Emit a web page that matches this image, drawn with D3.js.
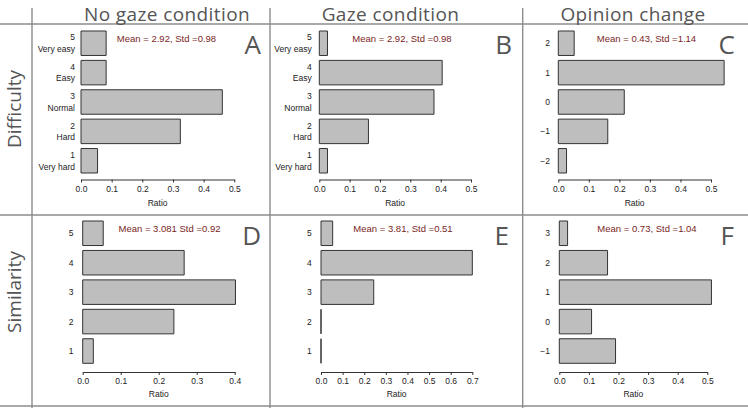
<!DOCTYPE html>
<html><head><meta charset="utf-8">
<script src="https://cdnjs.cloudflare.com/ajax/libs/d3/7.8.5/d3.min.js"></script>
<style>body{margin:0;background:#fff}svg{display:block}</style>
</head><body>
<script>
// ---- data ----
const columnTitles = ["No gaze condition", "Gaze condition", "Opinion change"];
const rowTitles = ["Difficulty", "Similarity"];
const panelLetters = ["A", "B", "C", "D", "E", "F"];
const scaleLevels = ["1", "2", "3", "4", "5"];
const difficultyNames = ["Very hard", "Hard", "Normal", "Easy", "Very easy"];
const opinionLevelsC = ["\u22122", "\u22121", "0", "1", "2"];
const opinionLevelsF = ["\u22121", "0", "1", "2", "3"];

const noGazeDifficulty = [0.054, 0.324, 0.461, 0.082, 0.082];
const gazeDifficulty = [0.027, 0.162, 0.378, 0.405, 0.027];
const opinionDifficulty = [0.027, 0.162, 0.216, 0.543, 0.052];
const noGazeSimilarity = [0.028, 0.240, 0.402, 0.267, 0.054];
const gazeSimilarity = [0, 0, 0.244, 0.700, 0.054];
const opinionSimilarity = [0.190, 0.109, 0.514, 0.163, 0.028];

const ticksHalf = [0, 0.1, 0.2, 0.3, 0.4, 0.5];
const ticksD = [0, 0.1, 0.2, 0.3, 0.4];
const ticksE = [0, 0.1, 0.2, 0.3, 0.4, 0.5, 0.6, 0.7];

const statsText = [
  "Mean = 2.92, Std =0.98", "Mean = 2.92, Std =0.98", "Mean = 0.43, Std =1.14",
  "Mean = 3.081 Std =0.92", "Mean = 3.81, Std =0.51", "Mean = 0.73, Std =1.04"
];
const axisTitle = "Ratio";

// ---- layout ----
const W = 748, H = 408;
const svg = d3.select("body").append("svg").attr("width", W).attr("height", H);
const small = "'Liberation Sans', Arial, sans-serif";
const big = "'Open Sans', 'Noto Sans', sans-serif";

const rows = [
  {barTop: 31, barBot: 173, axisY: 179.5, tickY: 192.5, titleY: 206, statY: 41.5, letterY: 54},
  {barTop: 221, barBot: 363.3, axisY: 372, tickY: 384.5, titleY: 397, statY: 231.5, letterY: 245}
];

const panels = [
  {row: 0, values: noGazeDifficulty, levels: scaleLevels, names: difficultyNames, ticks: ticksHalf, x0: 81, x1: 234.3, labelX: 75, statX: 166.5, letterX: 261},
  {row: 0, values: gazeDifficulty, levels: scaleLevels, names: difficultyNames, ticks: ticksHalf, x0: 319.3, x1: 471, labelX: 311.7, statX: 402, letterX: 512},
  {row: 0, values: opinionDifficulty, levels: opinionLevelsC, names: null, ticks: ticksHalf, x0: 558.3, x1: 711, labelX: 550, statX: 646.5, letterX: 735},
  {row: 1, values: noGazeSimilarity, levels: scaleLevels, names: null, ticks: ticksD, x0: 82.7, x1: 234.7, labelX: 73.5, statX: 169.5, letterX: 261},
  {row: 1, values: gazeSimilarity, levels: scaleLevels, names: null, ticks: ticksE, x0: 321, x1: 472.3, labelX: 311.7, statX: 403, letterX: 509},
  {row: 1, values: opinionSimilarity, levels: opinionLevelsF, names: null, ticks: ticksHalf, x0: 559.3, x1: 707.3, labelX: 550, statX: 647, letterX: 734}
];

// grid lines
const gridColor = "#8c8c8c";
const g = svg.append("g").attr("stroke", gridColor).attr("stroke-width", 1.4);
[24, 215, 406].forEach(y => g.append("line").attr("x1", 0).attr("x2", W).attr("y1", y).attr("y2", y));
[32, 270, 522.7].forEach(x => g.append("line").attr("x1", x).attr("x2", x).attr("y1", 8).attr("y2", H));

// column titles
const colCenters = [167, 390.5, 633];
columnTitles.forEach((t, i) => {
  svg.append("text").attr("x", colCenters[i]).attr("y", 20.5).attr("text-anchor", "middle")
    .attr("font-family", big).attr("font-size", 19).attr("letter-spacing", 0.4)
    .attr("fill", "#555").text(t);
});
// row titles
const rowCenters = [109, 292];
rowTitles.forEach((t, i) => {
  svg.append("text").attr("transform", `translate(21,${rowCenters[i]}) rotate(-90)`)
    .attr("text-anchor", "middle").attr("font-family", big).attr("font-size", 19)
    .attr("fill", "#555").text(t);
});

panels.forEach((p, i) => {
  const r = rows[p.row];
  const x = d3.scaleLinear().domain([0, p.ticks[p.ticks.length - 1]]).range([p.x0, p.x1]);
  const y = d3.scaleBand().domain(p.levels).range([r.barBot, r.barTop]).paddingInner(0.2 / 1.2).paddingOuter(0);
  const pg = svg.append("g");

  pg.selectAll("path.bar").data(p.values).join("path").attr("class", "bar")
    .attr("d", (v, k) => {
      const yy = y(p.levels[k]), w = x(v) - x(0);
      return `M${x(0)},${yy}h${w}v${y.bandwidth()}h${-w}Z`;
    })
    .attr("fill", "#bebebe").attr("stroke", "#333").attr("stroke-width", 1);

  // category labels
  p.levels.forEach((lv, k) => {
    const cy = y(lv) + y.bandwidth() / 2;
    if (p.names) {
      pg.append("text").attr("x", p.labelX).attr("y", cy - 5.8).attr("dy", "0.35em")
        .attr("text-anchor", "end").attr("font-family", small).attr("font-size", 8.5).attr("fill", "#222").text(lv);
      pg.append("text").attr("x", p.labelX).attr("y", cy + 5.8).attr("dy", "0.35em")
        .attr("text-anchor", "end").attr("font-family", small).attr("font-size", 8.5).attr("fill", "#222").text(p.names[k]);
    } else {
      pg.append("text").attr("x", p.labelX).attr("y", cy).attr("dy", "0.35em")
        .attr("text-anchor", "end").attr("font-family", small).attr("font-size", 8.5).attr("fill", "#222").text(lv);
    }
  });

  // x axis
  const ax = pg.append("g").attr("transform", `translate(0,${r.axisY})`)
    .call(d3.axisBottom(x).tickValues(p.ticks).tickFormat(d3.format(".1f")).tickSize(3).tickSizeOuter(0).tickPadding(3));
  ax.select(".domain").attr("stroke", "#333");
  ax.selectAll(".tick line").attr("stroke", "#333");
  ax.selectAll(".tick text").attr("font-family", small).attr("font-size", 8.5).attr("fill", "#222");
  pg.append("text").attr("x", (p.x0 + p.x1) / 2).attr("y", r.titleY).attr("text-anchor", "middle")
    .attr("font-family", small).attr("font-size", 8.5).attr("fill", "#222").text(axisTitle);

  // stats
  pg.append("text").attr("x", p.statX).attr("y", r.statY).attr("text-anchor", "middle")
    .attr("font-family", small).attr("font-size", 9.5).attr("fill", "#7a1e1e").text(statsText[i]);
  // letter
  pg.append("text").attr("x", p.letterX).attr("y", r.letterY).attr("text-anchor", "end")
    .attr("font-family", big).attr("font-size", 26).attr("fill", "#555").text(panelLetters[i]);
});
</script>
</body></html>
